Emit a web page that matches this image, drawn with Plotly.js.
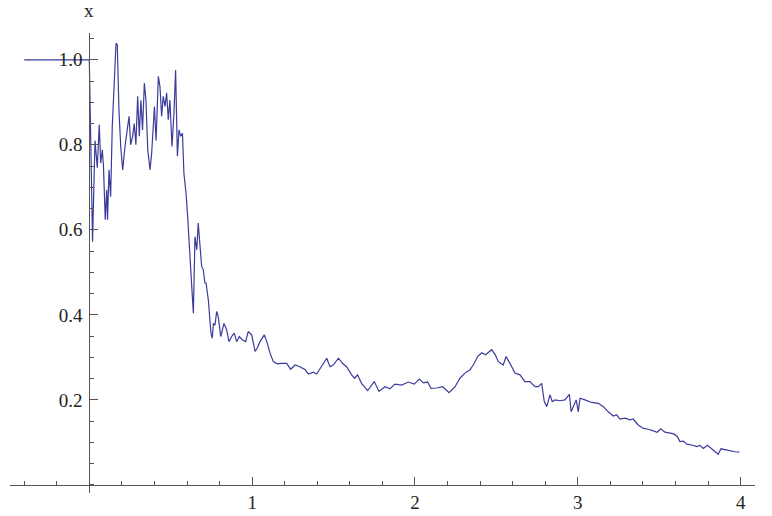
<!DOCTYPE html>
<html>
<head>
<meta charset="utf-8">
<script src="https://cdn.plot.ly/plotly-3.0.1.min.js"></script>
<style>html,body{margin:0;padding:0;background:#fff}#plot{width:772px;height:516px}</style>
</head>
<body>
<div id="plot"></div>
<script>
// time values
const t = [-0.4,0,0.02,0.035,0.049,0.061,0.07,0.08,0.087,0.098,0.107,0.112,0.121,0.131,0.141,0.152,0.164,0.172,0.182,0.193,0.205,0.219,0.229,0.244,0.254,0.266,0.276,0.286,0.297,0.307,0.317,0.327,0.338,0.348,0.359,0.373,0.383,0.39,0.40,0.41,0.424,0.434,0.444,0.454,0.465,0.475,0.485,0.495,0.508,0.52,0.53,0.541,0.551,0.561,0.572,0.581,0.594,0.604,0.618,0.629,0.639,0.649,0.66,0.669,0.68,0.69,0.70,0.71,0.717,
  0.731,0.747,0.755,0.762,0.772,0.782,0.792,0.807,0.827,0.843,0.858,0.874,0.89,0.905,0.921,0.941,0.96,0.976,0.997,1.018,1.032,1.048,1.075,1.09,1.11,1.13,1.155,1.18,1.212,1.237,1.263,1.294,1.325,1.345,1.376,1.396,1.427,1.458,1.478,1.498,1.53,1.555,1.58,1.611,1.63,
  1.647,1.672,1.709,1.75,1.779,1.816,1.846,1.877,1.918,1.959,1.995,2.027,2.051,2.078,2.098,2.133,2.17,2.209,2.246,2.276,2.307,2.338,2.358,2.385,2.41,2.433,2.454,2.471,2.493,2.512,
  2.542,2.559,2.583,2.614,2.645,2.675,2.706,2.737,2.757,2.778,2.794,2.809,2.829,2.843,2.86,2.89,2.921,2.948,2.959,2.99,3.003,3.013,3.044,3.085,3.126,3.157,3.187,3.218,3.238,
  3.259,3.29,3.32,3.34,3.371,3.402,3.433,3.463,3.488,3.509,3.535,3.566,3.59,3.611,3.627,3.648,3.669,3.699,3.73,3.75,3.771,3.796,3.816,3.842,3.862,3.879,3.903,3.934,3.965,3.992];
// x(t) values
const xv = [1.0,1.0,0.572,0.81,0.746,0.847,0.757,0.788,0.749,0.624,0.694,0.624,0.741,0.678,0.843,0.922,1.039,1.035,0.882,0.796,0.741,0.796,0.82,0.867,0.80,0.82,0.85,0.80,0.914,0.82,0.905,0.835,0.945,0.905,0.788,0.741,0.78,0.835,0.89,0.81,0.961,0.937,0.867,0.914,0.89,0.922,0.859,0.905,0.796,0.875,0.976,0.773,0.835,0.82,0.827,0.733,0.686,0.631,0.522,0.467,0.404,0.584,0.553,0.616,0.561,0.514,0.506,0.475,0.475,
  0.435,0.357,0.345,0.38,0.376,0.408,0.396,0.349,0.38,0.365,0.337,0.349,0.357,0.337,0.349,0.341,0.337,0.361,0.353,0.314,0.322,0.337,0.353,0.337,0.31,0.29,0.285,0.286,0.286,0.272,0.282,0.278,0.271,0.261,0.265,0.261,0.278,0.298,0.278,0.282,0.298,0.286,0.278,0.259,0.251,
  0.259,0.239,0.222,0.243,0.22,0.231,0.226,0.237,0.235,0.242,0.237,0.249,0.24,0.242,0.227,0.228,0.231,0.217,0.231,0.251,0.263,0.271,0.282,0.302,0.311,0.306,0.314,0.318,0.306,0.29,
  0.282,0.302,0.286,0.263,0.259,0.243,0.243,0.231,0.231,0.239,0.196,0.184,0.212,0.196,0.2,0.198,0.2,0.213,0.172,0.2,0.172,0.204,0.2,0.194,0.192,0.184,0.172,0.162,0.165,
  0.155,0.157,0.153,0.155,0.141,0.133,0.131,0.127,0.124,0.132,0.124,0.122,0.12,0.114,0.102,0.103,0.096,0.094,0.09,0.093,0.086,0.093,0.087,0.08,0.072,0.085,0.083,0.08,0.078,0.077];
const xTicks = [1,2,3,4];
const yTicks = [0.2,0.4,0.6,0.8,1.0];
const yTickText = ['0.2','0.4','0.6','0.8','1.0'];

const xr = [-0.487, 4.088], yr = [-0.019, 1.063];
const axisColor = '#555555';
const font = {family: '"Liberation Serif", "Times New Roman", serif', size: 19, color: '#222'};

const layout = {
  width: 772, height: 516,
  margin: {l: 10, r: 17, t: 33, b: 23},
  paper_bgcolor: '#fff', plot_bgcolor: '#fff',
  showlegend: false,
  font: font,
  xaxis: {
    range: xr, anchor: 'free', position: (0 - yr[0]) / (yr[1] - yr[0]),
    showgrid: false, zeroline: false, showline: true, linecolor: axisColor, linewidth: 1,
    tickmode: 'array', tickvals: xTicks, ticks: 'inside', ticklen: 8, tickcolor: axisColor,
    minor: {tickmode: 'linear', tick0: 0, dtick: 0.2, ticks: 'inside', ticklen: 4, tickcolor: axisColor, showgrid: false},
    tickfont: font
  },
  yaxis: {
    range: yr, anchor: 'free', position: (0 - xr[0]) / (xr[1] - xr[0]),
    showgrid: false, zeroline: false, showline: true, linecolor: axisColor, linewidth: 1,
    tickmode: 'array', tickvals: yTicks, ticktext: yTickText, ticks: 'inside', ticklen: 8, tickcolor: axisColor,
    ticklabelstandoff: 3,
    minor: {tickmode: 'linear', tick0: 0, dtick: 0.05, ticks: 'inside', ticklen: 4, tickcolor: axisColor, showgrid: false},
    tickfont: font
  },
  annotations: [{
    text: 'x', xref: 'x', x: 0, yref: 'paper', y: 1.048, showarrow: false,
    xanchor: 'center', yanchor: 'middle', font: font
  }]
};

Plotly.newPlot('plot', [{
  x: t, y: xv, type: 'scatter', mode: 'lines',
  line: {color: '#3b3b9c', width: 1.2}
}], layout, {displayModeBar: false, staticPlot: true});
</script>
</body>
</html>
